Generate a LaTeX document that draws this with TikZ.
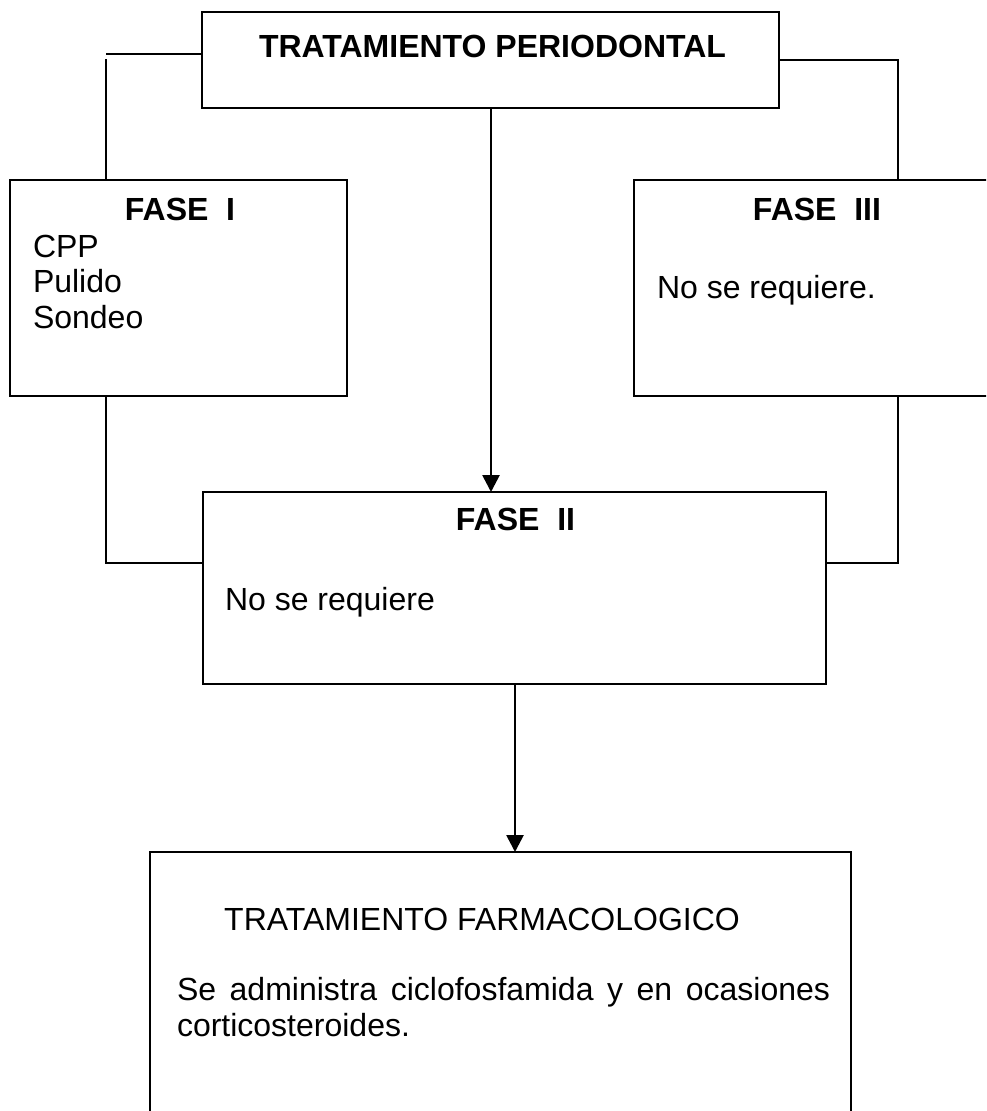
\documentclass[tikz,border=0pt]{standalone}
\usepackage{fontspec}
\setmainfont{Liberation Sans}
\usetikzlibrary{arrows.meta}
\begin{document}
\begin{tikzpicture}[x=1pt,y=-1pt,
  every node/.style={inner sep=0pt, outer sep=0pt},
  boxnode/.style={draw, line width=2.7pt, rectangle},
  txt/.style={anchor=base west, font=\fontsize{32pt}{36pt}\selectfont},
  ttl/.style={anchor=base, font=\fontsize{32pt}{36pt}\selectfont\bfseries},
  link/.style={line width=2.7pt},
  arr/.style={line width=2.7pt, -{Triangle[width=17pt,length=17pt]}}]
\useasboundingbox (0,0) rectangle (986,1111);
\clip (0,0) rectangle (986,1111);
\fill[white] (0,0) rectangle (986,1111);
% boxes
\node[boxnode, minimum width=577pt, minimum height=96pt] (top) at (490.5,60) {};
\node[boxnode, minimum width=337pt, minimum height=216pt] (f1) at (178.5,288) {};
\node[boxnode, minimum width=376pt, minimum height=216pt] (f3) at (822,288) {};
\node[boxnode, minimum width=623pt, minimum height=192pt] (f2) at (514.5,588) {};
\node[boxnode, minimum width=701pt, minimum height=290pt] (ft) at (500.5,997) {};
% texts
\node[ttl] (ttop) at (492.5,57) {TRATAMIENTO PERIODONTAL};
\node[ttl] (tf1) at (180,220) {FASE\ \ I};
\node[txt] (c1) at (33,257) {CPP};
\node[txt] (c2) at (33,292) {Pulido};
\node[txt] (c3) at (33,328) {Sondeo};
\node[ttl] (tf3) at (817,220) {FASE\ \ III};
\node[txt] (n3) at (657,298) {No se requiere.};
\node[ttl] (tf2) at (515.5,530) {FASE\ \ II};
\node[txt] (n2) at (225,610) {No se requiere};
\node[ttl, font=\fontsize{32pt}{36pt}\selectfont] (tft) at (482,930) {TRATAMIENTO FARMACOLOGICO};
\node[txt] (l1) at (177,1000) {\makebox[653pt][s]{Se administra ciclofosfamida y en ocasiones}};
\node[txt] (l2) at (177,1036) {corticosteroides.};
% connector coordinates
\coordinate (lc) at (106,54);
\coordinate (lcv) at (106,59);
\coordinate (rc) at (898,60);
\coordinate (lb) at (106,563);
\coordinate (rb) at (898,563);
\coordinate (a1) at (491,0);
\coordinate (a2) at (515,0);
% connectors
\draw[link] (top.west |- lc) -- (lc);
\draw[link] (lcv) -- (f1.north -| lcv);
\draw[link] (top.east |- rc) -- (rc) -- (f3.north -| rc);
\draw[link] (f1.south -| lb) -- (lb) -- (f2.west |- lb);
\draw[link] (f3.south -| rb) -- (rb) -- (f2.east |- rb);
\draw[arr] (top.south -| a1) -- (f2.north -| a1);
\draw[arr] (f2.south -| a2) -- (ft.north -| a2);
\end{tikzpicture}
\end{document}
